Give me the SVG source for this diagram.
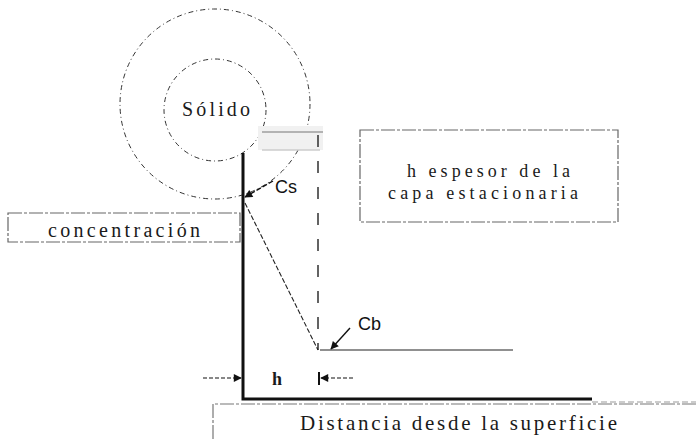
<svg xmlns="http://www.w3.org/2000/svg" width="696" height="439" viewBox="0 0 696 439">
<style>
.serif{font-family:"Liberation Serif","Times New Roman",serif;fill:#1a1a1a}
.sans{font-family:"Liberation Sans",Arial,sans-serif;fill:#111}
.box{fill:#fff;stroke:#666;stroke-width:1.2;stroke-dasharray:14 2 3 2}
.circ{fill:none;stroke:#333;stroke-width:1;stroke-dasharray:5 3 1 3}
.thin{fill:none;stroke:#222;stroke-width:1.1}
</style>
<defs>
<marker id="ah" viewBox="0 0 10 10" refX="9" refY="5" markerWidth="10" markerHeight="8" markerUnits="userSpaceOnUse" orient="auto">
<path d="M0,0 L10,5 L0,10 z" fill="#111"/>
</marker>
</defs>
<rect width="696" height="439" fill="#fff"/>
<g id="solido">
<circle class="circ" cx="215" cy="104" r="95"/>
<circle class="circ" cx="215" cy="110" r="51"/>
<text class="serif" x="182" y="116" font-size="20" textLength="68" lengthAdjust="spacing">Sólido</text>
</g>
<g id="superficie">
<rect x="258" y="126" width="65" height="24" fill="#f1f1f1"/>
<line x1="262" y1="132" x2="323" y2="132" stroke="#777" stroke-width="1.2"/>
<line x1="262" y1="150" x2="320" y2="150" stroke="#ccc" stroke-width="1.5"/>
</g>
<g id="concentracion">
<rect class="box" x="8" y="213" width="232" height="29"/>
<text class="serif" x="48" y="237" font-size="20" textLength="152" lengthAdjust="spacing">concentración</text>
</g>
<g id="espesor">
<rect class="box" x="360" y="130" width="258" height="92"/>
<text class="serif" x="407" y="177" font-size="18" textLength="163" lengthAdjust="spacing">h espesor de la</text>
<text class="serif" x="388" y="199" font-size="18" textLength="190" lengthAdjust="spacing">capa estacionaria</text>
</g>
<g id="distancia">
<path d="M213,439 V404 H700" fill="none" stroke="#777" stroke-width="1.2" stroke-dasharray="14 2 3 2"/>
<text class="serif" x="300" y="430" font-size="21" textLength="317" lengthAdjust="spacing">Distancia desde la superficie</text>
</g>
<g id="label-cs"><text class="sans" x="275" y="193" font-size="18">Cs</text></g>
<g id="label-cb"><text class="sans" x="358" y="330" font-size="18">Cb</text></g>
<g id="label-h"><text class="serif" x="272" y="385" font-size="18" font-weight="bold">h</text></g>
<g id="connectors">
<path d="M243,153 V399 H592" fill="none" stroke="#111" stroke-width="3"/>
<line x1="318" y1="135" x2="318" y2="350" stroke="#222" stroke-width="1.4" stroke-dasharray="12 14"/>
<line x1="245" y1="203" x2="318" y2="350" class="thin" stroke-dasharray="5 2"/>
<line x1="320" y1="350" x2="513" y2="350" class="thin"/>
<line x1="273" y1="181" x2="245" y2="197" stroke="#111" stroke-width="1.4" stroke-dasharray="5 2" marker-end="url(#ah)"/>
<line x1="350" y1="328" x2="331" y2="349" stroke="#111" stroke-width="1.4" marker-end="url(#ah)"/>
<line x1="203" y1="378" x2="241" y2="378" stroke="#111" stroke-width="1.2" stroke-dasharray="4 2" marker-end="url(#ah)"/>
<line x1="353" y1="378" x2="321" y2="378" stroke="#111" stroke-width="1.2" stroke-dasharray="4 2" marker-end="url(#ah)"/>
<line x1="319" y1="372" x2="319" y2="385" stroke="#111" stroke-width="2"/>
<path d="M592,402 H700" fill="none" stroke="#999" stroke-width="1" stroke-dasharray="6 3"/>
</g>
</svg>
